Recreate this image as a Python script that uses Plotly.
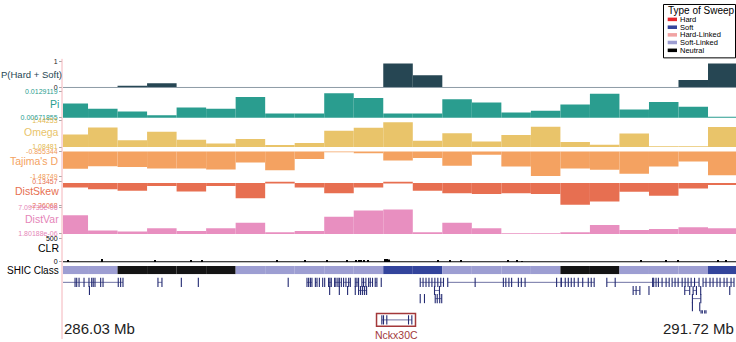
import plotly.graph_objects as go

W, H = 736, 342
FONT = "Liberation Sans, Arial, sans-serif"

# ---------------- data ----------------
window_mid = [286.125, 286.375, 286.625, 286.875, 287.125, 287.375, 287.625, 287.875,
              288.125, 288.375, 288.625, 288.875, 289.125, 289.375, 289.625, 289.875,
              290.125, 290.375, 290.625, 290.875, 291.125, 291.375, 291.625]
window_width = 0.25

p_sweep = [0, 0, 0.06, 0.16, 0, 0, 0, 0, 0, 0, 0, 0.93, 0.48, 0, 0, 0, 0, 0, 0, 0, 0, 0.29, 0.93]
pi = [0.01000, 0.00878, 0.00816, 0.00725, 0.00908, 0.00878, 0.01153, 0.00771, 0.00771, 0.01245,
      0.01131, 0.00771, 0.00771, 0.01101, 0.01027, 0.00793, 0.00832, 0.00977, 0.01229, 0.00862,
      0.01039, 0.00924, 0.00695]
omega = [1.2531, 1.3498, 1.1776, 1.2928, 1.1815, 1.1338, 1.1948, 1.1113, 1.1378, 1.3061, 1.3458,
         1.4200, 1.1683, 1.2703, 1.1577, 1.2478, 1.3591, 1.1511, 1.1153, 1.2663, 1.0941, 1.0941, 1.3538]
tajima_d = [-1.2951, -1.2301, -1.2451, -1.2876, -1.2876, -1.3126, -1.1302, -1.3301, -1.0452, -0.8703,
            -0.8953, -1.0802, -1.0203, -1.2127, -0.9378, -1.2376, -1.4800, -1.2876, -1.3201, -1.4200,
            -1.2376, -1.1052, -1.4550]
dist_skew = [-0.4593, -0.6275, -0.7958, -0.3009, -0.8552, -0.3009, -1.5480, 0.10, -0.4593, -1.0532,
             -0.4593, 0.10, -0.7958, -1.0532, -1.1224, -1.0532, -1.1224, -2.2112, -1.8846, -0.8948,
             -1.2907, -0.5582, -0.2019]
dist_var = [5.5702e-06, 2.4762e-06, 2.2779e-06, 2.9324e-06, 2.3969e-06, 2.9324e-06, 4.0629e-06,
            2.1390e-06, 2.3969e-06, 5.2529e-06, 6.5619e-06, 6.7602e-06, 2.1390e-06, 4.0629e-06,
            2.9324e-06, 1.9407e-06, 1.9407e-06, 2.1390e-06, 3.5869e-06, 2.5952e-06, 2.7935e-06,
            3.1307e-06, 2.9324e-06]

clr_pos = [286.077, 286.371, 286.821, 287.125, 287.216, 287.852, 288.090, 288.271, 288.440, 288.516,
           288.541, 288.562, 288.583, 288.617, 288.761, 288.786, 288.803, 289.217, 289.319, 289.412,
           289.809, 289.885, 289.928, 290.934, 291.145, 291.247, 291.585, 291.652]
clr_val = [40, 60, 20, 20, 40, 20, 20, 20, 20, 30, 40, 40, 30, 30, 60, 60, 50, 20, 20, 20,
           20, 20, 15, 20, 20, 20, 20, 20]

shic_class = ["Soft-Linked", "Soft-Linked", "Neutral", "Neutral", "Neutral", "Neutral",
              "Soft-Linked", "Soft-Linked", "Soft-Linked", "Soft-Linked", "Soft-Linked",
              "Soft", "Soft", "Soft-Linked", "Soft-Linked", "Soft-Linked", "Soft-Linked",
              "Neutral", "Neutral", "Soft-Linked", "Soft-Linked", "Soft-Linked", "Soft"]

track_names = ["P(Hard + Soft)", "Pi", "Omega", "Tajima's D", "DistSkew", "DistVar", "CLR"]
track_min = [0, 0.00671855, 1.08481, -1.48749, -2.26068, 1.80188e-06, 0]
track_max = [1, 0.0129119, 1.44253, -0.855344, 0.13457, 7.09735e-06, 500]
track_min_text = ["0", "0.00671855", "1.08481", "-1.48749", "-2.26068", "1.80188e-06", "0"]
track_max_text = ["1", "0.0129119", "1.44253", "-0.855344", "0.13457", "7.09735e-06", "500"]

sweep_types = ["Hard", "Soft", "Hard-Linked", "Soft-Linked", "Neutral"]

# genes: row, start, end, exon positions (Mb)
gene_row = [1, 1, 1, 1, 1, 1, 1, 1, 1, 1, 1, 1, 1, 1, 1, 1, 1, 1, 1, 1, 1, 1, 1, 1, 1,
            2, 2, 2, 2, 2, 2, 2, 2, 2, 2, 2, 2, 2,
            3, 3, 3, 3,
            4, 4,
            5]
gene_start = [286.034, 286.842, 287.040, 287.184, 287.945, 288.104, 288.175, 288.209, 288.237, 288.254,
              288.287, 288.338, 288.414, 288.513, 288.569, 288.626, 288.682, 288.733, 289.063, 289.296,
              290.257, 290.643, 291.040, 291.196, 291.458,
              286.262, 288.296, 288.378, 288.448, 288.513, 288.541, 289.184, 290.866, 291.000, 291.303,
              291.374, 291.438, 291.684,
              289.063, 289.099, 289.190, 291.368,
              291.368, 291.430,
              291.441]
gene_end = [286.546, 286.876, 287.040, 287.184, 287.945, 288.146, 288.189, 288.209, 288.237, 288.254,
            288.310, 288.395, 288.471, 288.541, 288.603, 288.659, 288.696, 288.733, 289.260, 290.257,
            290.536, 291.031, 291.171, 291.424, 291.720,
            286.262, 288.296, 288.378, 288.448, 288.513, 288.609, 289.226, 290.923, 291.000, 291.345,
            291.402, 291.438, 291.684,
            289.063, 289.099, 289.245, 291.439,
            291.368, 291.430,
            291.483]
gene_exons = [
    [286.034, 286.140, 286.154, 286.174, 286.216, 286.258, 286.281, 286.294, 286.309, 286.357,
     286.377, 286.506, 286.526, 286.546],
    [286.842, 286.876], [287.040], [287.184], [287.945],
    [288.104, 288.118, 288.133, 288.146], [288.175, 288.189], [288.209], [288.237], [288.254],
    [288.287, 288.298, 288.310], [288.338, 288.349, 288.366, 288.378, 288.395],
    [288.414, 288.434, 288.457, 288.471], [288.513, 288.527, 288.541], [288.569, 288.583, 288.603],
    [288.626, 288.640, 288.659], [288.682, 288.696], [288.733],
    [289.063, 289.087, 289.112, 289.137, 289.162, 289.187, 289.212, 289.237, 289.260],
    [289.296, 289.528, 289.767, 289.788, 289.814, 289.837, 289.894, 289.919, 289.951, 290.218, 290.257],
    [290.257, 290.291, 290.317, 290.342, 290.367, 290.401, 290.439, 290.486, 290.511, 290.536],
    [290.643, 290.714, 291.031],
    [291.040, 291.060, 291.080, 291.111, 291.145, 291.171],
    [291.196, 291.221, 291.247, 291.281, 291.306, 291.331, 291.357, 291.386, 291.424],
    [291.458, 291.483, 291.517, 291.543, 291.576, 291.602, 291.636, 291.661, 291.695, 291.720],
    [286.262], [288.296], [288.378], [288.448], [288.513],
    [288.541, 288.558, 288.575, 288.592, 288.609], [289.184, 289.226],
    [290.866, 290.891, 290.923], [291.000], [291.303, 291.345], [291.374, 291.402], [291.438], [291.684],
    [289.063], [289.099], [289.190, 289.207, 289.228, 289.245], [291.368, 291.439],
    [291.368], [291.430],
    [291.441, 291.452, 291.472, 291.483],
]

focus_gene = "Nckx30C"
focus_start, focus_end = 288.738, 288.992
focus_exons = [288.738, 288.752, 288.780, 288.964, 288.992]
focus_box = [288.693, 289.023]

x_range = [286.038, 291.737]
x_left_label = "286.03 Mb"
x_right_label = "291.72 Mb"

# ---------------- styles / layout ----------------
track_colors = ["#264653", "#2a9d8f", "#e9c46a", "#f4a261", "#e76f51", "#e88fc0", "#000000"]
label_colors = ["#264653", "#2a9d8f", "#e9c46a", "#f4a261", "#e76f51", "#e585b8", "#000000"]
tick_colors = ["#222222", "#2a9d8f", "#e2b84f", "#f09a55", "#e76f51", "#e585b8", "#000000"]
track_px = [(59, 86), (89, 116), (119, 146), (150.7, 176), (181.3, 205.5), (208, 234.7), (239, 264)]
track_pad = [0.03, 0, 0, 0, 0, 0, 15]
label_y = [71.7, 101.7, 131, 160, 190.7, 220, 249.3]
label_size = [9.5, 10.5, 10.5, 10.5, 10.5, 10.5, 10.5]
class_colors = {"Hard": "#e4262c", "Soft": "#33449c", "Hard-Linked": "#f1a3a3",
                "Soft-Linked": "#9d9ed2", "Neutral": "#141414"}
gene_color = "#232a72"

X0 = 63 / W


def dom(top, bot):
    return [1 - bot / H, 1 - top / H]


fig = go.Figure()
layout = dict(
    width=W, height=H, margin=dict(l=0, r=0, t=0, b=0),
    paper_bgcolor="white", plot_bgcolor="white",
    barmode="overlay", showlegend=False,
    font=dict(family=FONT, color="#000"),
    xaxis=dict(domain=[X0, 1], range=x_range, visible=False, fixedrange=True),
)

annotations = []
shapes = []
series = [p_sweep, pi, omega, tajima_d, dist_skew, dist_var]

for i, name in enumerate(track_names):
    ax = "y" if i == 0 else f"y{i + 1}"
    key = "yaxis" if i == 0 else f"yaxis{i + 1}"
    lo = track_min[i] - track_pad[i]
    if i < 6:
        fig.add_trace(go.Bar(x=window_mid, y=series[i],
                             width=window_width, marker=dict(color=track_colors[i], line=dict(width=0)),
                             xaxis="x", yaxis=ax, hoverinfo="skip"))
    else:
        fig.add_trace(go.Bar(x=clr_pos, y=clr_val, width=0.009,
                             marker=dict(color="#000", line=dict(width=0)),
                             xaxis="x", yaxis=ax, hoverinfo="skip"))
    layout[key] = dict(domain=dom(*track_px[i]), range=[lo, track_max[i]], anchor="x",
                       tickvals=[track_min[i], track_max[i]],
                       ticktext=[track_min_text[i], track_max_text[i]],
                       tickfont=dict(size=7, color=tick_colors[i], family=FONT),
                       ticks="outside", ticklen=3, tickcolor="#aaaaaa", tickwidth=1,
                       showgrid=False, zeroline=False, showline=False, fixedrange=True)
    if i == 0:
        annotations.append(dict(text=name, xref="paper", yref="paper", x=0, y=1 - label_y[i] / H,
                                xanchor="left", yanchor="middle", showarrow=False, borderpad=0,
                                font=dict(size=label_size[i], color=label_colors[i], family=FONT)))
    else:
        annotations.append(dict(text=name, xref="paper", yref="paper", x=61 / W, y=1 - label_y[i] / H,
                                xanchor="right", yanchor="middle", showarrow=False,
                                font=dict(size=label_size[i], color=label_colors[i], family=FONT)))

# baselines
shapes.append(dict(type="line", xref="x", yref="y", x0=x_range[0], x1=x_range[1], y0=0, y1=0,
                   line=dict(color="#8d9ca6", width=1)))
shapes.append(dict(type="line", xref="x", yref="y7", x0=x_range[0], x1=x_range[1], y0=0, y1=0,
                   line=dict(color="#000", width=1.2)))

# SHIC class track
fig.add_trace(go.Bar(x=window_mid, y=[1] * len(shic_class), width=window_width,
                     marker=dict(color=[class_colors[c] for c in shic_class], line=dict(width=0)),
                     xaxis="x", yaxis="y8", hoverinfo="skip"))
layout["yaxis8"] = dict(domain=dom(267.5, 275.8), range=[0, 1], anchor="x", visible=False, fixedrange=True)
annotations.append(dict(text="SHIC Class", xref="paper", yref="paper", x=61 / W, y=1 - 272 / H,
                        xanchor="right", yanchor="middle", showarrow=False,
                        font=dict(size=10, color="#000", family=FONT)))

# gene track
ix, iy, ex, ey = [], [], [], []
for r, s, e, exs in zip(gene_row, gene_start, gene_end, gene_exons):
    if e > s:
        ix += [s, e, None]
        iy += [r, r, None]
    ex += exs
    ey += [r] * len(exs)
fig.add_trace(go.Scatter(x=ix, y=iy, mode="lines", line=dict(color="#4b4f8c", width=0.8),
                         xaxis="x", yaxis="y9", hoverinfo="skip", cliponaxis=False))
fig.add_trace(go.Scatter(x=ex, y=ey, mode="markers",
                         marker=dict(symbol="line-ns", size=6.5, color=gene_color,
                                     line=dict(color=gene_color, width=1.1)),
                         xaxis="x", yaxis="y9", hoverinfo="skip", cliponaxis=False))
layout["yaxis9"] = dict(domain=dom(280, 321.5), range=[5.5, 0.5], anchor="x", visible=False, fixedrange=True)

# focus gene glyph
fig.add_trace(go.Scatter(x=[focus_start, focus_end], y=[0.5, 0.5], mode="lines",
                         line=dict(color="#4b4f8c", width=0.8), xaxis="x", yaxis="y10", hoverinfo="skip"))
fig.add_trace(go.Scatter(x=focus_exons, y=[0.5] * len(focus_exons), mode="markers",
                         marker=dict(symbol="line-ns", size=6.5, color=gene_color,
                                     line=dict(color=gene_color, width=1.1)),
                         xaxis="x", yaxis="y10", hoverinfo="skip"))
layout["yaxis10"] = dict(domain=dom(316, 329), range=[0, 1], anchor="x", visible=False, fixedrange=True)
shapes.append(dict(type="rect", xref="x", yref="paper", x0=focus_box[0], x1=focus_box[1],
                   y0=1 - 329 / H, y1=1 - 316 / H, line=dict(color="#a3383a", width=1.5)))
annotations.append(dict(text=focus_gene, xref="x", yref="paper", x=(focus_box[0] + focus_box[1]) / 2,
                        y=1 - 337.5 / H, xanchor="center", yanchor="middle", showarrow=False,
                        font=dict(size=10.5, color="#a3383a", family=FONT)))

# coordinate labels
annotations.append(dict(text=x_left_label, xref="paper", yref="paper", x=62 / W, y=1 - 331 / H,
                        xanchor="left", yanchor="middle", showarrow=False,
                        font=dict(size=15, color="#222", family=FONT)))
annotations.append(dict(text=x_right_label, xref="paper", yref="paper", x=736 / W, y=1 - 331 / H,
                        xanchor="right", yanchor="middle", showarrow=False,
                        font=dict(size=15, color="#222", family=FONT)))

# left pink guide line
shapes.append(dict(type="line", xref="paper", yref="paper", x0=62 / W, x1=62 / W, y0=0, y1=1 - 56 / H,
                   line=dict(color="#f4b4ba", width=1)))

# legend box
shapes.append(dict(type="rect", xref="paper", yref="paper", x0=663.5 / W, x1=735.5 / W,
                   y0=1 - 55 / H, y1=1 - 0.5 / H, line=dict(color="#000", width=1),
                   fillcolor="white", layer="above"))
annotations.append(dict(text="Type of Sweep", xref="paper", yref="paper", x=666 / W, y=1 - 7 / H,
                        xanchor="left", yanchor="middle", showarrow=False,
                        font=dict(size=10, color="#000", family=FONT)))
legend_y = [15.7, 23.7, 31.5, 39.3, 47.3]
for t, yc in zip(sweep_types, legend_y):
    shapes.append(dict(type="rect", xref="paper", yref="paper", x0=667.7 / W, x1=677 / W,
                       y0=1 - (yc + 1.8) / H, y1=1 - (yc - 1.8) / H,
                       line=dict(width=0), fillcolor=class_colors[t] if t != "Neutral" else "#000",
                       layer="above"))
    annotations.append(dict(text=t, xref="paper", yref="paper", x=678 / W, y=1 - yc / H,
                            xanchor="left", yanchor="middle", showarrow=False,
                            font=dict(size=7.5, color="#000", family=FONT)))

layout["annotations"] = annotations
layout["shapes"] = shapes
fig.update_layout(**layout)
fig.write_html("out.html")
